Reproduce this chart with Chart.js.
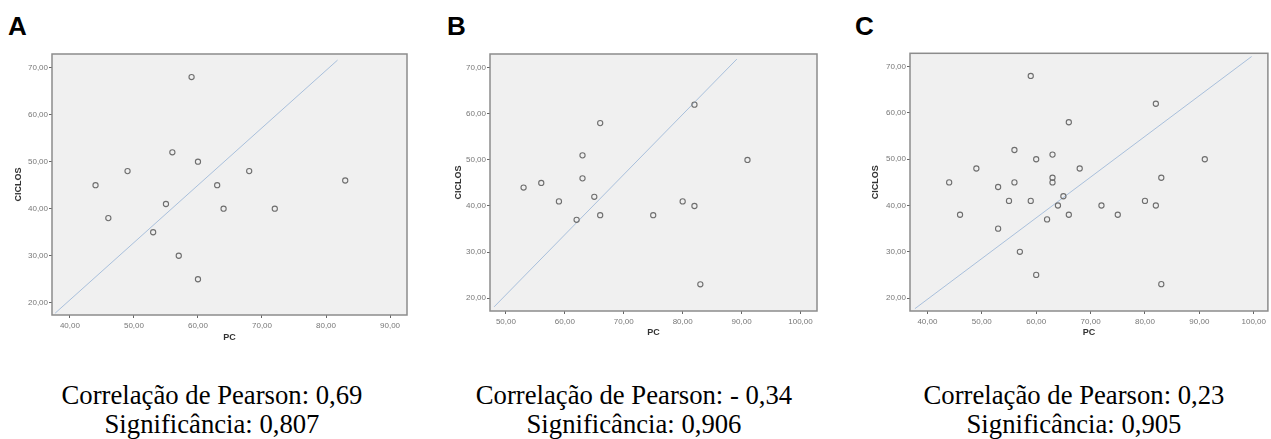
<!DOCTYPE html>
<html>
<head>
<meta charset="utf-8">
<script src="https://cdn.jsdelivr.net/npm/chart.js@4"></script>
<style>
  html, body { margin: 0; padding: 0; background: #fff; overflow: hidden; }
  body { width: 1271px; height: 439px; position: relative; }
  canvas { position: absolute; }
  .letter { position: absolute; top: 11px; font: bold 26px "Liberation Sans", Arial, sans-serif; color: #000; }
  .caption { position: absolute; top: 381px; width: 400px; text-align: center;
             font: 26.7px "Liberation Serif", "Times New Roman", serif; line-height: 29px; color: #000; }
</style>
</head>
<body>
<div class="letter" style="left:8px">A</div>
<div class="letter" style="left:447px">B</div>
<div class="letter" style="left:855px">C</div>

<canvas id="chartA"></canvas>
<canvas id="chartB"></canvas>
<canvas id="chartC"></canvas>

<div class="caption" style="left:12px">Correlação de Pearson: 0,69<br>Significância: 0,807</div>
<div class="caption" style="left:434px">Correlação de Pearson: - 0,34<br>Significância: 0,906</div>
<div class="caption" style="left:874px">Correlação de Pearson: 0,23<br>Significância: 0,905</div>

<script>
// Panel A: PC vs CICLOS
const pcA     = [44, 46, 49, 53, 55, 56, 57, 59, 60, 60, 63, 64, 68, 72, 83];
const ciclosA = [45, 38, 48, 35, 41, 52, 30, 68, 50, 25, 45, 40, 48, 40, 46];
const fitXA   = [37.7, 81.8];
const fitYA   = [17.8, 71.6];

// Panel B
const pcB     = [53, 56, 59, 62, 63, 63, 65, 66, 66, 75, 80, 82, 82, 83, 91];
const ciclosB = [44, 45, 41, 37, 51, 46, 42, 58, 38, 38, 41, 62, 40, 23, 50];
const fitXB   = [48.0, 89.2];
const fitYB   = [18.1, 71.9];

// Panel C (A + B together)
const pcC     = [44, 46, 49, 53, 53, 55, 56, 56, 57, 59, 59, 60, 60, 62, 63,
                 63, 63, 64, 65, 66, 66, 68, 72, 75, 80, 82, 82, 83, 83, 91];
const ciclosC = [45, 38, 48, 44, 35, 41, 52, 45, 30, 68, 41, 50, 25, 37, 51,
                 46, 45, 40, 42, 58, 38, 48, 40, 38, 41, 62, 40, 46, 23, 50];
const fitXC   = [37.7, 99.6];
const fitYC   = [17.7, 72.2];

// tick labels
const yTicks  = [20, 30, 40, 50, 60, 70];
const xTicksA = [40, 50, 60, 70, 80, 90];
const xTicksB = [50, 60, 70, 80, 90, 100];
const xTicksC = [40, 50, 60, 70, 80, 90, 100];

const plotBox = {
    id: 'plotBox',
    beforeDraw(chart) {
        const a = chart.chartArea;
        const ctx = chart.ctx;
        ctx.save();
        ctx.fillStyle = '#f0f0f0';
        ctx.fillRect(a.left, a.top, a.right - a.left, a.bottom - a.top);
        ctx.restore();
    },
    afterDraw(chart) {
        const a = chart.chartArea;
        const ctx = chart.ctx;
        ctx.save();
        ctx.strokeStyle = '#8c8c8c';
        ctx.lineWidth = 1.5;
        ctx.strokeRect(a.left, a.top, a.right - a.left, a.bottom - a.top);
        ctx.restore();
    }
};

function toPoints(xs, ys) {
    return xs.map((x, i) => ({ x: x, y: ys[i] }));
}

function fmt(v) {
    return v.toFixed(2).replace('.', ',');
}

function makeChart(id, box, xs, ys, fitX, fitY, xTicks, range) {
    const canvas = document.getElementById(id);
    canvas.style.left = box.left + 'px';
    canvas.style.top = '0px';
    canvas.width = box.width;
    canvas.height = box.height;
    canvas.style.width = box.width + 'px';
    canvas.style.height = box.height + 'px';

    new Chart(canvas, {
        type: 'scatter',
        data: {
            datasets: [{
                data: toPoints(xs, ys),
                pointStyle: 'circle',
                pointRadius: 2.6,
                pointBorderWidth: 1.1,
                pointBorderColor: '#6e6e6e',
                pointBackgroundColor: 'rgba(0,0,0,0)',
                order: 1
            }, {
                type: 'line',
                data: toPoints(fitX, fitY),
                borderColor: '#a9c0dc',
                borderWidth: 1,
                pointRadius: 0,
                fill: false,
                order: 2
            }]
        },
        options: {
            responsive: false,
            animation: false,
            events: [],
            layout: { padding: { top: box.top, right: box.right, left: 0, bottom: 0 } },
            plugins: { legend: { display: false }, tooltip: { enabled: false } },
            scales: {
                x: {
                    type: 'linear',
                    min: range.xMin,
                    max: range.xMax,
                    afterBuildTicks: s => { s.ticks = xTicks.map(v => ({ value: v })); },
                    afterFit: s => { s.height = 35; },
                    grid: { drawOnChartArea: false, tickLength: 3, color: '#666' },
                    border: { display: false },
                    ticks: { callback: fmt, color: '#777', padding: 3, maxRotation: 0,
                             font: { family: 'Liberation Sans', size: 8 } },
                    title: { display: true, text: 'PC', color: '#333',
                             padding: { top: 0, bottom: box.pcPad },
                             font: { family: 'Liberation Sans', size: 9, weight: 'bold' } }
                },
                y: {
                    type: 'linear',
                    min: range.yMin,
                    max: range.yMax,
                    afterBuildTicks: s => { s.ticks = yTicks.map(v => ({ value: v })); },
                    afterFit: s => { s.width = 52; },
                    grid: { drawOnChartArea: false, tickLength: 3, color: '#666' },
                    border: { display: false },
                    ticks: { callback: fmt, color: '#777', padding: 1,
                             font: { family: 'Liberation Sans', size: 8 } },
                    title: { display: true, text: 'CICLOS', color: '#333',
                             padding: { top: box.cicPad, bottom: 0 },
                             font: { family: 'Liberation Sans', size: 9, weight: 'bold' } }
                }
            }
        },
        plugins: [plotBox]
    });
}

makeChart('chartA', { left: 0, width: 420, height: 350, top: 54, right: 13, pcPad: 6.9, cicPad: 13.6 },
    pcA, ciclosA, fitXA, fitYA, xTicksA,
    { xMin: 37.2, xMax: 92.65, yMin: 17.4, yMax: 72.9 });

makeChart('chartB', { left: 438, width: 392, height: 346, top: 54, right: 13, pcPad: 7.9, cicPad: 15.6 },
    pcB, ciclosB, fitXB, fitYB, xTicksB,
    { xMin: 47.3, xMax: 102.8, yMin: 17.2, yMax: 73.0 });

makeChart('chartC', { left: 858, width: 415, height: 346, top: 53.3, right: 0, pcPad: 8.3, cicPad: 12.6 },
    pcC, ciclosC, fitXC, fitYC, xTicksC,
    { xMin: 36.8, xMax: 102.6, yMin: 17.2, yMax: 72.9 });
</script>
</body>
</html>
